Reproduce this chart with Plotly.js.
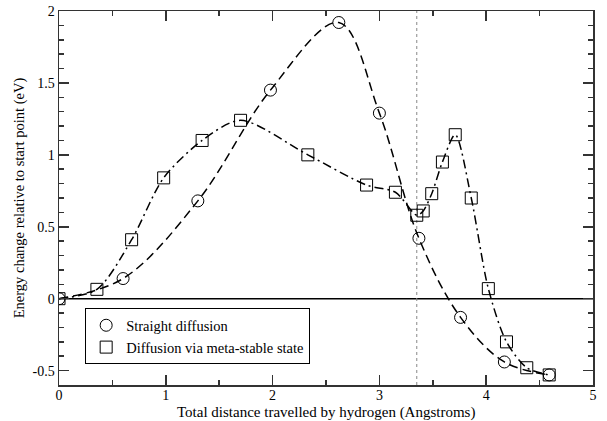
<!DOCTYPE html>
<html>
<head>
<meta charset="utf-8">
<script src="https://cdn.plot.ly/plotly-3.0.1.min.js"></script>
<style>html,body{margin:0;padding:0;background:#fff}#chart{width:607px;height:421px}</style>
</head>
<body>
<div id="chart"></div>
<script>
// Straight diffusion
const straightX = [0, 0.60, 1.30, 1.98, 2.62, 3.00, 3.37, 3.76, 4.17, 4.59];
const straightY = [0, 0.14, 0.68, 1.45, 1.92, 1.29, 0.42, -0.13, -0.44, -0.53];
// Diffusion via meta-stable state
const metaX = [0, 0.355, 0.68, 0.98, 1.34, 1.70, 2.33, 2.88, 3.15, 3.35, 3.41, 3.49, 3.59, 3.71, 3.86, 4.02, 4.19, 4.38, 4.59];
const metaY = [0, 0.065, 0.41, 0.84, 1.10, 1.24, 1.00, 0.79, 0.74, 0.58, 0.61, 0.73, 0.95, 1.14, 0.70, 0.07, -0.30, -0.48, -0.53];
const markerLine = 3.35;
const yTickVals = [-0.5, 0, 0.5, 1, 1.5, 2];
const yTickText = ['-0.5', '0', '0.5', '1', '1.5', '2'];
const xTickVals = [0, 1, 2, 3, 4, 5];
const xTickText = ['0', '1', '2', '3', '4', '5'];
const seriesNames = ['Straight diffusion', 'Diffusion via meta-stable state'];
const xTitle = 'Total distance travelled by hydrogen (Angstroms)';
const yTitle = 'Energy change relative to start point (eV)';

const FAMILY = "'Liberation Serif', 'DejaVu Serif', serif";
function f(size) { return {family: FAMILY, size: size, color: '#000'}; }

const circleMarker = {symbol: 'circle-open', size: 12, color: '#000', line: {width: 1, color: '#000'}};
const squareMarker = {symbol: 'square-open', size: 12, color: '#000', line: {width: 1, color: '#000'}};

const traces = [
  {
    x: straightX, y: straightY, name: seriesNames[0], showlegend: false,
    mode: 'lines+markers', type: 'scatter',
    line: {shape: 'spline', smoothing: 1.0, color: '#000', width: 1.5, dash: '9px,5px'},
    marker: circleMarker
  },
  {
    x: metaX, y: metaY, name: seriesNames[1], showlegend: false,
    mode: 'lines+markers', type: 'scatter',
    line: {shape: 'spline', smoothing: 0.8, color: '#000', width: 1.5, dash: '9px,4px,2px,4px'},
    marker: squareMarker
  },
  // legend entries (markers only, as in the reference legend)
  {x: [null], y: [null], name: seriesNames[0], mode: 'markers', type: 'scatter', marker: circleMarker},
  {x: [null], y: [null], name: seriesNames[1], mode: 'markers', type: 'scatter', marker: squareMarker}
];

const axisCommon = {
  showgrid: false, showline: true, linecolor: '#333', linewidth: 1.5,
  mirror: 'ticks', ticks: 'inside', ticklen: 10, tickwidth: 1.5, tickcolor: '#333',
  tickfont: f(14), zeroline: false, automargin: false
};

const layout = {
  width: 607, height: 421,
  margin: {l: 59, r: 14, t: 11, b: 36},
  paper_bgcolor: '#fff', plot_bgcolor: '#fff',
  font: f(14),
  showlegend: true,
  legend: {
    x: 0.049, y: 0.205, xanchor: 'left', yanchor: 'top',
    bordercolor: '#000', borderwidth: 1, bgcolor: '#fff',
    font: f(14.5), itemwidth: 30, tracegroupgap: 0
  },
  xaxis: Object.assign({}, axisCommon, {
    range: [0, 5], tickvals: xTickVals, ticktext: xTickText, ticklabelstandoff: -3,
    minor: {dtick: 0.5, ticks: 'inside', ticklen: 5, tickwidth: 1.5, tickcolor: '#333'}
  }),
  yaxis: Object.assign({}, axisCommon, {
    range: [-0.6, 2], tickvals: yTickVals, ticktext: yTickText,
    minor: {dtick: 0.1, ticks: 'inside', ticklen: 5, tickwidth: 1.5, tickcolor: '#333'},
    title: {text: yTitle, font: f(14.5), standoff: 4}
  }),
  annotations: [
    {text: xTitle, xref: 'paper', yref: 'paper', x: 0.5, y: 0, xanchor: 'center', yanchor: 'top',
     yshift: -18, showarrow: false, borderpad: 0, font: f(15)}
  ],
  shapes: [
    {type: 'line', xref: 'paper', yref: 'y', x0: 0, x1: 1, y0: 0, y1: 0, line: {color: '#000', width: 1.5}, layer: 'below'},
    {type: 'line', xref: 'x', yref: 'paper', x0: markerLine, x1: markerLine, y0: 0, y1: 1, line: {color: '#888', width: 1, dash: 'dot'}, layer: 'below'}
  ]
};

Plotly.newPlot('chart', traces, layout, {displayModeBar: false, staticPlot: true});
</script>
</body>
</html>
